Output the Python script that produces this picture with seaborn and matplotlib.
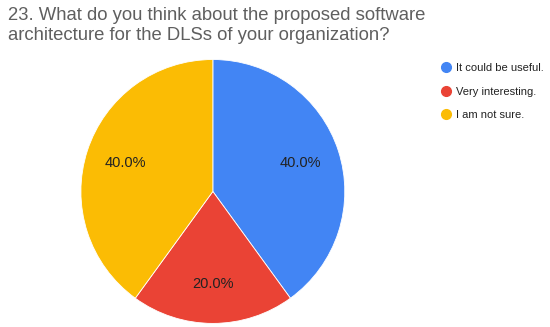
import matplotlib
matplotlib.use("Agg")
import matplotlib.pyplot as plt
from matplotlib.lines import Line2D
import seaborn as sns

answers = ["It could be useful.", "Very interesting.", "I am not sure."]
shares = [40.0, 20.0, 40.0]
colors = ["#4285F4", "#EA4335", "#FBBC04"]
title = "23. What do you think about the proposed software\narchitecture for the DLSs of your organization?"

sns.set_theme(style="white")
plt.rcParams['font.family'] = ['Liberation Sans', 'DejaVu Sans']

fig = plt.figure(figsize=(5.5, 3.27), dpi=100)
ax = fig.add_axes([0.147, 0.011, 0.48, 0.807])

wedges, texts, autotexts = ax.pie(
    shares, colors=colors, startangle=90, counterclock=False,
    autopct='%1.1f%%', pctdistance=0.7,
    wedgeprops=dict(linewidth=0.6, edgecolor='white'),
    textprops=dict(fontsize=10.5, color='#222222'))
ax.set_xlim(-1, 1)
ax.set_ylim(-1, 1)
ax.set_aspect('equal')

fig.text(0.015, 0.978, title, ha='left', va='top', fontsize=13.3,
         color='#5f5f5f', linespacing=1.25)

handles = [Line2D([0], [0], marker='o', linestyle='', markersize=7,
                  markerfacecolor=c, markeredgecolor=c) for c in colors]
fig.legend(handles, answers, loc='upper left', bbox_to_anchor=(0.78, 0.837),
           frameon=False, fontsize=8, labelcolor='#222222',
           handletextpad=0.3, labelspacing=1.2, handlelength=1.2)

fig.savefig("out.png", dpi=100)
